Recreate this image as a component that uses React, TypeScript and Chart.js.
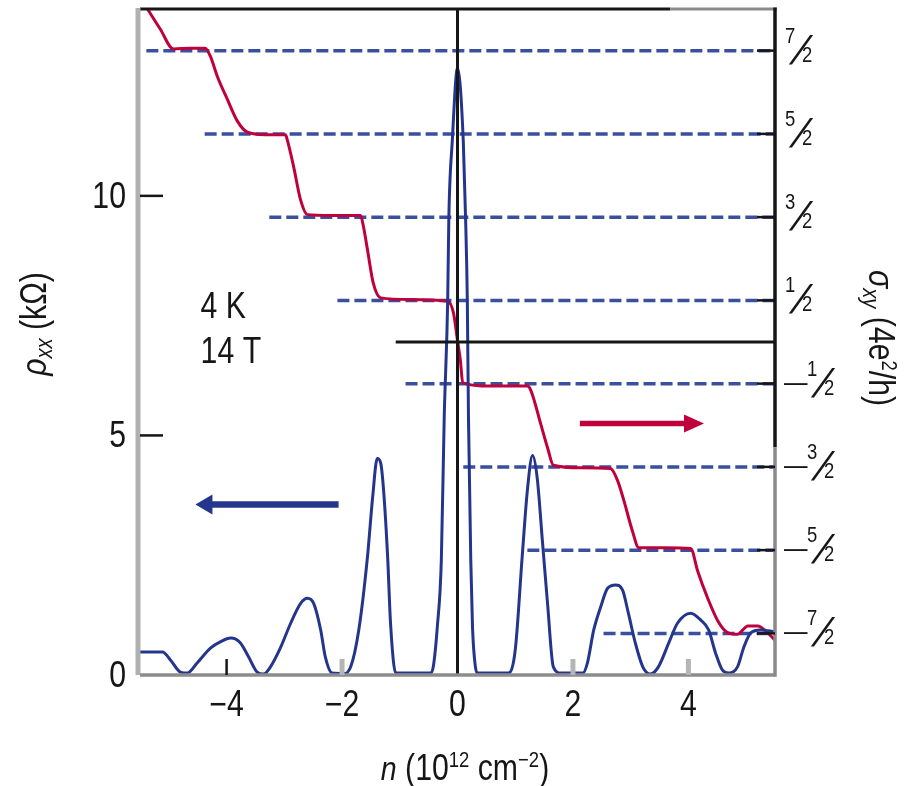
import React, { useEffect, useRef } from 'react';
import { Chart, registerables } from 'chart.js';

Chart.register(...registerables);

const FONT = '"Liberation Sans", Arial, sans-serif';
const SQUEEZE = 0.84;
const TEXT = '#161616';
const RED = '#c0003c';
const BLUE = '#24358c';
const DASH = '#3a4f9e';

// axes
const xMin = -5.5;
const xMax = 5.5;
const xTicks = [-4, -2, 0, 2, 4];
const xTickLabels = ['\u22124', '\u22122', '0', '2', '4'];
const rhoMax = 13.9;
const rhoTicks = [0, 5, 10];
const rhoTickLabels = ['0', '5', '10'];
const sigmaMin = -4;
const sigmaMax = 4;
const sigmaTicks = [-3.5, -2.5, -1.5, -0.5, 0.5, 1.5, 2.5, 3.5];
const sigmaTickLabels = ['-7/2', '-5/2', '-3/2', '-1/2', '1/2', '3/2', '5/2', '7/2'];

// rho_xx (kOhm) vs n
const rhoN = [-5.5, -5.11, -4.97, -4.8, -4.68, -4.51, -4.28, -4.11, -3.93, -3.76, -3.62, -3.47, -3.36, -3.24, -3.07, -2.89, -2.72, -2.6, -2.49, -2.37, -2.29, -2.17, -1.97, -1.85, -1.71, -1.56, -1.47, -1.39, -1.33, -1.28, -1.21, -1.16, -1.07, -0.47, -0.42, -0.35, -0.28, -0.23, -0.17, -0.15, -0.09, 0.0, 0.1, 0.14, 0.17, 0.19, 0.23, 0.26, 0.31, 0.35, 0.88, 1.0, 1.12, 1.21, 1.3, 1.38, 1.47, 1.56, 1.66, 1.79, 2.17, 2.25, 2.36, 2.48, 2.6, 2.74, 2.86, 2.96, 3.08, 3.21, 3.34, 3.48, 3.66, 3.81, 4.04, 4.21, 4.35, 4.47, 4.59, 4.7, 4.85, 4.96, 5.08, 5.25, 5.5];
const rhoV = [0.48, 0.48, 0.31, 0.06, 0.04, 0.25, 0.56, 0.69, 0.77, 0.67, 0.38, 0.06, 0.02, 0.17, 0.56, 1.08, 1.49, 1.6, 1.49, 0.94, 0.38, 0.04, 0.03, 0.17, 0.94, 2.46, 3.71, 4.52, 4.42, 3.85, 2.46, 1.08, 0.04, 0.04, 0.17, 1.0, 2.4, 5.38, 7.81, 9.54, 11.15, 12.67, 11.15, 9.54, 7.81, 5.38, 2.4, 1.0, 0.17, 0.04, 0.04, 0.52, 2.46, 3.85, 4.58, 4.12, 2.81, 1.49, 0.17, 0.04, 0.04, 0.25, 0.94, 1.42, 1.81, 1.88, 1.77, 1.29, 0.67, 0.17, 0.02, 0.17, 0.67, 1.08, 1.29, 1.15, 0.94, 0.46, 0.1, 0.04, 0.17, 0.58, 0.88, 0.94, 0.9];

// sigma_xy (4e^2/h) vs n
const sigN = [-5.37, -5.15, -4.92, -4.63, -4.37, -4.28, -4.16, -3.99, -3.81, -3.64, -3.33, -2.98, -2.95, -2.84, -2.72, -2.6, -2.2, -1.68, -1.63, -1.56, -1.46, -1.33, -0.81, -0.17, -0.07, 0.0, 0.05, 0.09, 0.57, 1.21, 1.27, 1.44, 1.56, 1.66, 2.13, 2.65, 2.77, 2.88, 3.03, 3.14, 3.6, 4.04, 4.16, 4.33, 4.51, 4.68, 4.85, 5.03, 5.2, 5.37, 5.51];
const sigV = [4.0, 3.76, 3.52, 3.53, 3.53, 3.43, 3.19, 2.92, 2.65, 2.52, 2.49, 2.49, 2.43, 2.11, 1.71, 1.53, 1.52, 1.52, 1.39, 1.11, 0.71, 0.53, 0.51, 0.49, 0.35, 0.02, -0.22, -0.49, -0.53, -0.53, -0.58, -0.98, -1.27, -1.48, -1.51, -1.52, -1.66, -1.9, -2.27, -2.47, -2.47, -2.48, -2.75, -3.07, -3.35, -3.49, -3.51, -3.41, -3.41, -3.49, -3.59];

// dashed plateau guides (sigma level, starting n)
const plateauLevels = [3.5, 2.5, 1.5, 0.5, -0.5, -1.5, -2.5, -3.5];
const plateauStarts = [-5.39, -4.38, -3.26, -2.08, -0.9, 0.1, 1.21, 2.53];
// solid zero lines
const sigmaZeroStart = -1.07;
const nZero = 0;

// arrows
const rhoArrowN = [-2.06, -4.54];
const rhoArrowY = 3.56;
const sigArrowN = [2.12, 4.27];
const sigArrowY = -0.98;

// annotations
const noteTexts = ['4 K', '14 T'];
const noteN = -4.45;
const noteRho = [7.46, 6.52];

type Seg = { t: string; size: number; dy?: number; italic?: boolean };

function fontOf(size: number, italic?: boolean) {
  return `${italic ? 'italic ' : ''}${size}px ${FONT}`;
}

function drawText(
  ctx: CanvasRenderingContext2D,
  t: string,
  x: number,
  y: number,
  size: number,
  align: CanvasTextAlign = 'left'
) {
  ctx.save();
  ctx.translate(x, y);
  ctx.scale(SQUEEZE, 1);
  ctx.font = fontOf(size);
  ctx.textAlign = align;
  ctx.textBaseline = 'alphabetic';
  ctx.fillText(t, 0, 0);
  ctx.restore();
}

function drawRich(ctx: CanvasRenderingContext2D, segs: Seg[], cx: number, cy: number, rot: number) {
  ctx.save();
  ctx.translate(cx, cy);
  ctx.rotate(rot);
  ctx.scale(SQUEEZE, 1);
  ctx.textAlign = 'left';
  ctx.textBaseline = 'alphabetic';
  let w = 0;
  const widths = segs.map((s) => {
    ctx.font = fontOf(s.size, s.italic);
    const m = ctx.measureText(s.t).width;
    w += m;
    return m;
  });
  let x = -w / 2;
  segs.forEach((s, i) => {
    ctx.font = fontOf(s.size, s.italic);
    ctx.fillText(s.t, x, s.dy || 0);
    x += widths[i];
  });
  ctx.restore();
}

const decor = {
  id: 'decor',
  afterDraw(chart: any) {
    const { ctx, chartArea: a, scales } = chart;
    const sx = scales.x;
    const sy = scales.y;
    const s2 = scales.y2;
    ctx.save();
    ctx.lineCap = 'butt';
    const line = (x1: number, y1: number, x2: number, y2: number, c: string, w: number) => {
      ctx.strokeStyle = c;
      ctx.lineWidth = w;
      ctx.beginPath();
      ctx.moveTo(x1, y1);
      ctx.lineTo(x2, y2);
      ctx.stroke();
    };
    // frame
    const topSplit = a.left + (a.right - a.left) * 0.835;
    line(a.left, a.top, topSplit, a.top, '#161616', 3);
    line(topSplit, a.top, a.right + 2, a.top, '#8a8a8a', 3);
    line(a.left - 2, a.top - 1, a.left - 2, a.bottom, '#b0b0b0', 5);
    line(a.left, a.bottom, a.right, a.bottom, '#8c8c8c', 3.5);
    const rSplit = a.top + (a.bottom - a.top) * 0.658;
    line(a.right, a.top - 1.5, a.right, rSplit, '#161616', 3.5);
    line(a.right, rSplit, a.right, a.bottom + 1.7, '#8a8a8a', 3.5);

    // tick marks
    rhoTicks.forEach((v) => {
      if (v === 0) return;
      const y = sy.getPixelForValue(v);
      line(a.left, y, a.left + 23, y, '#161616', 2.5);
    });
    xTicks.forEach((v) => {
      if (v === 0) return;
      const x = sx.getPixelForValue(v);
      const dark = v === -4;
      line(x, a.bottom, x, a.bottom - 16, dark ? '#161616' : '#b5b5b5', dark ? 2.5 : 5);
    });
    sigmaTicks.forEach((v) => {
      const y = s2.getPixelForValue(v);
      line(a.right - 18, y, a.right, y, '#161616', 2.5);
    });

    ctx.fillStyle = TEXT;
    // left tick labels
    rhoTicks.forEach((v, i) => {
      drawText(ctx, rhoTickLabels[i], a.left - 14, sy.getPixelForValue(v) + 12, 36, 'right');
    });
    // bottom tick labels
    xTicks.forEach((v, i) => {
      drawText(ctx, xTickLabels[i], sx.getPixelForValue(v), a.bottom + 41, 36, 'center');
    });

    // right axis fraction labels
    sigmaTicks.forEach((v, i) => {
      const y = s2.getPixelForValue(v);
      const lab = sigmaTickLabels[i];
      const neg = lab.startsWith('-');
      const [num, den] = lab.replace('-', '').split('/');
      let x0 = a.right + 10;
      if (neg) {
        drawText(ctx, '\u2014', x0 - 1, y + 7, 28);
        x0 += 22;
      }
      drawText(ctx, num, x0, y - 8, 22);
      ctx.save();
      ctx.translate(x0 + 4, y + 13);
      ctx.transform(1, 0, -0.45, 1, 0, 0);
      ctx.font = fontOf(40);
      ctx.textAlign = 'left';
      ctx.textBaseline = 'alphabetic';
      ctx.fillText('/', 0, 0);
      ctx.restore();
      drawText(ctx, den, x0 + 17, y + 11, 22);
    });

    // arrows
    const arrow = (xa: number, xb: number, y: number, color: string, lw: number, hl: number, hw: number) => {
      const dir = Math.sign(xb - xa);
      ctx.strokeStyle = color;
      ctx.fillStyle = color;
      ctx.lineWidth = lw;
      ctx.beginPath();
      ctx.moveTo(xa, y);
      ctx.lineTo(xb - dir * hl * 0.6, y);
      ctx.stroke();
      ctx.beginPath();
      ctx.moveTo(xb, y);
      ctx.lineTo(xb - dir * hl, y - hw);
      ctx.lineTo(xb - dir * hl, y + hw);
      ctx.closePath();
      ctx.fill();
    };
    arrow(sx.getPixelForValue(rhoArrowN[0]), sx.getPixelForValue(rhoArrowN[1]), sy.getPixelForValue(rhoArrowY), BLUE, 6.5, 17, 10);
    arrow(sx.getPixelForValue(sigArrowN[0]), sx.getPixelForValue(sigArrowN[1]), s2.getPixelForValue(sigArrowY), RED, 5.5, 20, 9);

    // annotations
    ctx.fillStyle = TEXT;
    noteTexts.forEach((t, i) => {
      drawText(ctx, t, sx.getPixelForValue(noteN), sy.getPixelForValue(noteRho[i]), 36);
    });

    // axis titles
    drawRich(
      ctx,
      [
        { t: 'n', size: 34, italic: true },
        { t: ' (10', size: 36 },
        { t: '12', size: 22, dy: -13 },
        { t: ' cm', size: 36 },
        { t: '\u22122', size: 22, dy: -13 },
        { t: ')', size: 36 },
      ],
      465,
      780,
      0
    );
    drawRich(
      ctx,
      [
        { t: '\u03c1', size: 36, italic: true },
        { t: 'xx', size: 24, dy: 6, italic: true },
        { t: ' (k\u03a9)', size: 36 },
      ],
      46,
      324,
      -Math.PI / 2
    );
    drawRich(
      ctx,
      [
        { t: '\u03c3', size: 36, italic: true },
        { t: 'xy', size: 24, dy: 6, italic: true },
        { t: ' (4e', size: 36 },
        { t: '2', size: 22, dy: -13 },
        { t: '/h)', size: 36 },
      ],
      869,
      338,
      Math.PI / 2
    );
    ctx.restore();
  },
};

export default function App() {
  const ref = useRef<HTMLCanvasElement>(null);
  useEffect(() => {
    const canvas = ref.current;
    if (!canvas) return;
    const rhoData = rhoN.map((n, i) => ({ x: n, y: rhoV[i] }));
    const sigData = sigN.map((n, i) => ({ x: n, y: sigV[i] }));
    const dashSets = plateauLevels.map((lv, i) => ({
      data: [
        { x: plateauStarts[i], y: lv },
        { x: xMax, y: lv },
      ],
      yAxisID: 'y2',
      borderColor: DASH,
      borderWidth: 3.5,
      borderDash: [12, 5],
      pointRadius: 0,
      tension: 0,
    }));
    const zeroPad = (s: any) => {
      s.paddingTop = 0;
      s.paddingBottom = 0;
      s.paddingLeft = 0;
      s.paddingRight = 0;
    };
    const chart = new Chart(canvas, {
      type: 'line',
      data: {
        datasets: [
          {
            data: [
              { x: nZero, y: 0 },
              { x: nZero, y: rhoMax },
            ],
            yAxisID: 'y',
            borderColor: '#161616',
            borderWidth: 3,
            pointRadius: 0,
          },
          {
            data: [
              { x: sigmaZeroStart, y: 0 },
              { x: xMax, y: 0 },
            ],
            yAxisID: 'y2',
            borderColor: '#161616',
            borderWidth: 3,
            pointRadius: 0,
          },
          {
            data: rhoData,
            yAxisID: 'y',
            borderColor: BLUE,
            borderWidth: 3,
            pointRadius: 0,
            cubicInterpolationMode: 'monotone',
          },
          {
            data: sigData,
            yAxisID: 'y2',
            borderColor: RED,
            borderWidth: 3,
            pointRadius: 0,
            cubicInterpolationMode: 'monotone',
          },
          ...dashSets,
        ] as any,
      },
      options: {
        animation: false,
        responsive: false,
        devicePixelRatio: 1,
        layout: { padding: { top: 9, left: 0, right: 0, bottom: 0 } },
        plugins: { legend: { display: false }, tooltip: { enabled: false } },
        elements: { point: { radius: 0 } },
        scales: {
          x: {
            type: 'linear',
            min: xMin,
            max: xMax,
            grid: { display: false, drawTicks: false },
            border: { display: false },
            afterBuildTicks: (s: any) => {
              s.ticks = xTicks.map((v) => ({ value: v }));
            },
            afterFit: (s: any) => {
              s.height = 111;
              zeroPad(s);
            },
            ticks: { display: false },
          },
          y: {
            type: 'linear',
            position: 'left',
            min: 0,
            max: rhoMax,
            grid: { display: false, drawTicks: false },
            border: { display: false },
            afterBuildTicks: (s: any) => {
              s.ticks = rhoTicks.map((v) => ({ value: v }));
            },
            afterFit: (s: any) => {
              s.width = 140;
              zeroPad(s);
            },
            ticks: { display: false },
          },
          y2: {
            type: 'linear',
            position: 'right',
            min: sigmaMin,
            max: sigmaMax,
            grid: { display: false, drawTicks: false },
            border: { display: false },
            afterBuildTicks: (s: any) => {
              s.ticks = sigmaTicks.map((v) => ({ value: v }));
            },
            afterFit: (s: any) => {
              s.width = 135;
              zeroPad(s);
            },
            ticks: { display: false },
          },
        },
      } as any,
      plugins: [decor],
    });
    return () => chart.destroy();
  }, []);
  return (
    <div style={{ position: 'absolute', left: 0, top: 0, width: 910, height: 786, background: '#fff' }}>
      <canvas ref={ref} width={910} height={786} style={{ display: 'block' }} />
    </div>
  );
}
